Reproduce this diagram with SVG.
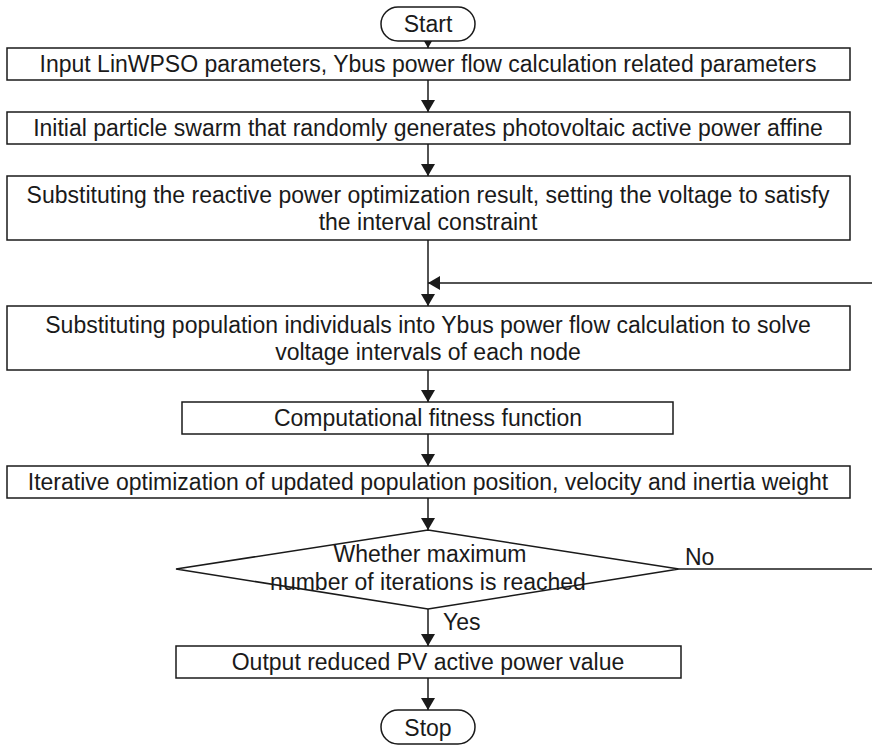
<svg xmlns="http://www.w3.org/2000/svg" width="872" height="745" viewBox="0 0 872 745">
<style>
.b{fill:#fff;stroke:#1a1a1a;stroke-width:1.5}
.t{font-family:"Liberation Sans",Arial,sans-serif;font-size:23px;fill:#1a1a1a;text-anchor:middle}
.l{font-family:"Liberation Sans",Arial,sans-serif;font-size:23px;fill:#1a1a1a}
.c{fill:none;stroke:#1a1a1a;stroke-width:1.5}
</style>
<defs>
<marker id="ah" viewBox="0 0 12 14" refX="12" refY="7" markerWidth="12" markerHeight="14" markerUnits="userSpaceOnUse" orient="auto">
<path d="M0,0 L12,7 L0,14 Z" fill="#1a1a1a"/>
</marker>
</defs>
<rect width="872" height="745" fill="#fff"/>
<g id="connectors">
<line class="c" x1="428" y1="41" x2="428" y2="48" marker-end="url(#ah)"/>
<line class="c" x1="428" y1="80" x2="428" y2="112" marker-end="url(#ah)"/>
<line class="c" x1="428" y1="144" x2="428" y2="176" marker-end="url(#ah)"/>
<line class="c" x1="428" y1="240" x2="428" y2="306" marker-end="url(#ah)"/>
<line class="c" x1="872" y1="283" x2="428" y2="283" marker-end="url(#ah)"/>
<line class="c" x1="428" y1="370" x2="428" y2="402" marker-end="url(#ah)"/>
<line class="c" x1="428" y1="434" x2="428" y2="466" marker-end="url(#ah)"/>
<line class="c" x1="428" y1="498" x2="428" y2="530" marker-end="url(#ah)"/>
<line class="c" x1="679" y1="569" x2="872" y2="569"/>
<line class="c" x1="428" y1="609" x2="428" y2="646" marker-end="url(#ah)"/>
<line class="c" x1="428" y1="678" x2="428" y2="710" marker-end="url(#ah)"/>
<text class="l" x="685" y="565">No</text>
<text class="l" x="443" y="630">Yes</text>
</g>
<g id="start">
<rect class="b" x="381" y="7" width="94" height="34" rx="17" ry="17"/>
<text class="t" x="428" y="32">Start</text>
</g>
<g id="box1">
<rect class="b" x="7" y="48" width="843" height="32"/>
<text class="t" x="428" y="72">Input LinWPSO parameters, Ybus power flow calculation related parameters</text>
</g>
<g id="box2">
<rect class="b" x="7" y="112" width="843" height="32"/>
<text class="t" x="428" y="136">Initial particle swarm that randomly generates photovoltaic active power affine</text>
</g>
<g id="box3">
<rect class="b" x="7" y="176" width="843" height="64"/>
<text class="t" x="428" y="203">Substituting the reactive power optimization result, setting the voltage to satisfy</text>
<text class="t" x="428" y="230">the interval constraint</text>
</g>
<g id="box4">
<rect class="b" x="7" y="306" width="843" height="64"/>
<text class="t" x="428" y="333">Substituting population individuals into Ybus power flow calculation to solve</text>
<text class="t" x="428" y="360">voltage intervals of each node</text>
</g>
<g id="box5">
<rect class="b" x="182" y="402" width="491" height="32"/>
<text class="t" x="428" y="426">Computational fitness function</text>
</g>
<g id="box6">
<rect class="b" x="7" y="466" width="843" height="32"/>
<text class="t" x="428" y="490">Iterative optimization of updated population position, velocity and inertia weight</text>
</g>
<g id="decision">
<polygon class="b" points="428,530 679,569 428,609 176,569"/>
<text class="t" x="430" y="562">Whether maximum</text>
<text class="t" x="428" y="590">number of iterations is reached</text>
</g>
<g id="box7">
<rect class="b" x="176" y="646" width="505" height="32"/>
<text class="t" x="428" y="670">Output reduced PV active power value</text>
</g>
<g id="stop">
<rect class="b" x="381" y="710" width="94" height="34" rx="17" ry="17"/>
<text class="t" x="428" y="736">Stop</text>
</g>
</svg>
